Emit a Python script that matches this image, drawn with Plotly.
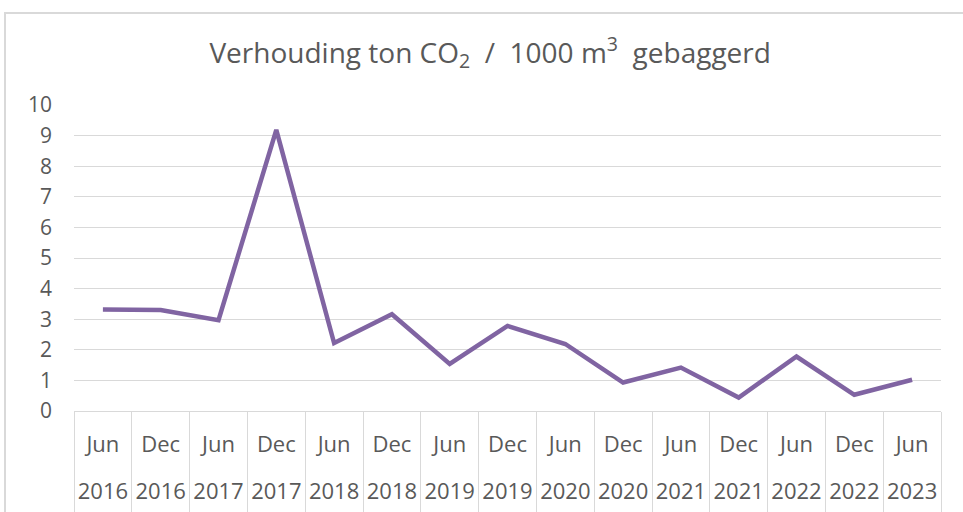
import plotly.graph_objects as go

months = ["Jun", "Dec", "Jun", "Dec", "Jun", "Dec", "Jun", "Dec", "Jun", "Dec", "Jun", "Dec", "Jun", "Dec", "Jun"]
years = ["2016", "2016", "2017", "2017", "2018", "2018", "2019", "2019", "2020", "2020", "2021", "2021", "2022", "2022", "2023"]
categories = [f"{m} {y}" for m, y in zip(months, years)]
values = [3.32, 3.30, 2.97, 9.19, 2.22, 3.16, 1.54, 2.78, 2.19, 0.93, 1.42, 0.44, 1.78, 0.53, 1.02]

title_text = "Verhouding ton CO<sub>2</sub>  /  1000 m<sup>3</sup>  gebaggerd"

TXT = "#595959"
GRID = "#d9d9d9"
FONT = "Open Sans"
FS = 21

fig = go.Figure()
fig.add_trace(go.Scatter(x=categories, y=values, mode="lines",
                         line=dict(color="#8064A2", width=4.5),
                         hoverinfo="x+y", showlegend=False))
# invisible helper traces so the label axes know the categories
for ax in ["x2", "x3"]:
    fig.add_trace(go.Scatter(x=categories, y=values, mode="lines", xaxis=ax,
                             line=dict(width=0, color="rgba(0,0,0,0)"),
                             hoverinfo="skip", showlegend=False))

fig.update_layout(
    width=963, height=512,
    margin=dict(l=74, r=22, t=105, b=101, autoexpand=False),
    paper_bgcolor="white", plot_bgcolor="white",
    font=dict(family=FONT, color=TXT, size=FS),
    title=dict(text=title_text, x=0.509, xanchor="center", xref="container",
               y=0.897, yanchor="middle", yref="container",
               font=dict(family=FONT, size=28, color=TXT)),
    xaxis=dict(type="category", categoryorder="array", categoryarray=categories,
               range=[-0.5, len(categories) - 0.5], automargin=False,
               showline=True, linecolor=GRID, linewidth=1,
               ticks="outside", tickson="boundaries", ticklen=102, tickcolor=GRID, tickwidth=1,
               showticklabels=False, showgrid=False, zeroline=False, fixedrange=True),
    xaxis2=dict(type="category", categoryorder="array", categoryarray=categories,
                overlaying="x", matches="x", side="bottom", anchor="y", automargin=False,
                tickmode="array", tickvals=categories, ticktext=months,
                ticks="", showline=False, showgrid=False, zeroline=False,
                ticklabelstandoff=18, tickfont=dict(size=22, color=TXT)),
    xaxis3=dict(type="category", categoryorder="array", categoryarray=categories,
                overlaying="x", matches="x", side="bottom", anchor="y", automargin=False,
                tickmode="array", tickvals=categories, ticktext=years,
                ticks="", showline=False, showgrid=False, zeroline=False,
                ticklabelstandoff=65, tickfont=dict(size=22, color=TXT)),
    yaxis=dict(range=[0, 10], dtick=1, tick0=0, showgrid=True, gridcolor=GRID, gridwidth=1,
               zeroline=False, showline=False, ticks="", ticklabelstandoff=21, automargin=False,
               tickfont=dict(size=FS, color=TXT), fixedrange=True),
)

# chart frame border (extends past the right and bottom edges like the reference crop)
fig.add_shape(type="rect", xref="paper", yref="paper",
              x0=-0.0796, x1=1.05, y0=-0.4, y1=1.3007,
              line=dict(color=GRID, width=2), fillcolor="rgba(0,0,0,0)", layer="below")

fig.write_html("out.html", config={"displayModeBar": False},
               post_script="document.body.style.margin='0';")
